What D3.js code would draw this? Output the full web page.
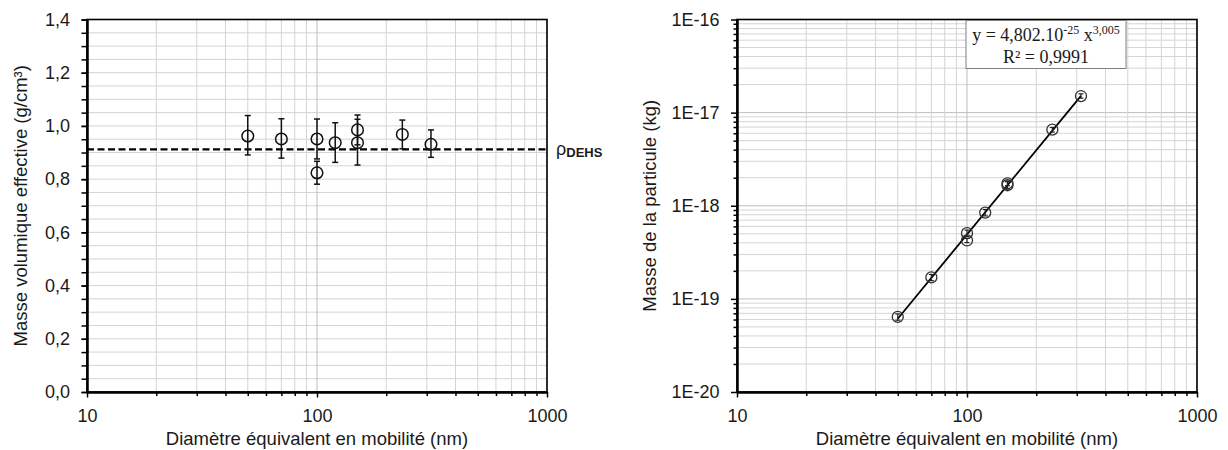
<!DOCTYPE html>
<html>
<head>
<meta charset="utf-8">
<script src="https://cdn.jsdelivr.net/npm/d3@7"></script>
<style>
  html, body { margin: 0; padding: 0; background: #fff; }
  svg { display: block; }
  text { font-family: "Liberation Sans", Arial, sans-serif; fill: #1a1a1a; }
</style>
</head>
<body>
<svg id="chart" width="1228" height="450"></svg>
<script>
// ---------- DATA ----------
const diameters = [50, 70, 100, 100, 120, 150, 150, 235, 313];          // nm
const densities = [0.962, 0.951, 0.951, 0.824, 0.937, 0.985, 0.937, 0.968, 0.931]; // g/cm3
const densityLow = [0.891, 0.879, 0.876, 0.781, 0.863, 0.929, 0.853, 0.914, 0.882];
const densityHigh = [1.039, 1.027, 1.026, 0.867, 1.012, 1.041, 1.025, 1.022, 0.985];
const rhoDEHS = 0.912;

const masses = [6.4e-20, 1.70e-19, 5.08e-19, 4.24e-19, 8.45e-19, 1.74e-18, 1.66e-18, 6.56e-18, 1.507e-17]; // kg
const massLow = [5.9e-20, 1.57e-19, 4.68e-19, 4.02e-19, 7.78e-19, 1.64e-18, 1.51e-18, 6.19e-18, 1.43e-17];
const massHigh = [6.9e-20, 1.83e-19, 5.48e-19, 4.46e-19, 9.12e-19, 1.84e-18, 1.81e-18, 6.93e-18, 1.59e-17];

const fitX = [50, 313];
const fitY = [6.12e-20, 1.515e-17];

const xTickValues = [10, 100, 1000];
const xTickLabels = ["10", "100", "1000"];
const leftYTickValues = [0, 0.2, 0.4, 0.6, 0.8, 1.0, 1.2, 1.4];
const leftYTickLabels = ["0,0", "0,2", "0,4", "0,6", "0,8", "1,0", "1,2", "1,4"];
const rightYTickValues = [1e-20, 1e-19, 1e-18, 1e-17, 1e-16];
const rightYTickLabels = ["1E-20", "1E-19", "1E-18", "1E-17", "1E-16"];

const xTitle = "Diamètre équivalent en mobilité (nm)";
const leftYTitle = "Masse volumique effective (g/cm³)";
const rightYTitle = "Masse de la particule (kg)";

// ---------- LAYOUT ----------
const svg = d3.select("#chart");
const plotTop = 19.5, plotBottom = 392;
const L = { x0: 87, x1: 547 };
const R = { x0: 737, x1: 1197 };

const xL = d3.scaleLog().domain([10, 1000]).range([L.x0, L.x1]);
const yL = d3.scaleLinear().domain([0, 1.4]).range([plotBottom, plotTop]);
const xR = d3.scaleLog().domain([10, 1000]).range([R.x0, R.x1]);
const yR = d3.scaleLog().domain([1e-20, 1e-16]).range([plotBottom, plotTop]);

function logMinors(lo, hi) {
  const out = [];
  for (let d = lo; d < hi * 0.999; d *= 10) for (let k = 2; k <= 9; k++) out.push(k * d);
  return out;
}
const xMinor = logMinors(10, 1000);
const yRMinor = logMinors(1e-20, 1e-16);
const yLAll = d3.range(0, 29).map(i => i * 0.05);

// ---------- GRID ----------
function vgrid(x, vals, color) {
  svg.append("g").selectAll("line").data(vals).join("line")
    .attr("x1", d => x(d)).attr("x2", d => x(d))
    .attr("y1", plotTop).attr("y2", plotBottom)
    .attr("stroke", color).attr("stroke-width", 1);
}
function hgrid(y, x0, x1, vals, color) {
  svg.append("g").selectAll("line").data(vals).join("line")
    .attr("x1", x0).attr("x2", x1)
    .attr("y1", d => y(d)).attr("y2", d => y(d))
    .attr("stroke", color).attr("stroke-width", 1);
}
hgrid(yL, L.x0, L.x1, yLAll, "#d4d4d4");
vgrid(xL, xMinor, "#d4d4d4");
vgrid(xL, xTickValues, "#bdbdbd");
hgrid(yR, R.x0, R.x1, yRMinor, "#d4d4d4");
hgrid(yR, R.x0, R.x1, rightYTickValues, "#bdbdbd");
vgrid(xR, xMinor, "#d4d4d4");
vgrid(xR, xTickValues, "#bdbdbd");

// ---------- FRAMES ----------
[L, R].forEach(p => {
  svg.append("rect").attr("x", p.x0).attr("y", plotTop)
    .attr("width", p.x1 - p.x0).attr("height", plotBottom - plotTop)
    .attr("fill", "none").attr("stroke", "#000").attr("stroke-width", 1.6);
});

// ---------- AXES ----------
function styleAxis(g, fs) {
  g.select(".domain").attr("stroke", "#000").attr("stroke-width", 2);
  g.selectAll(".tick line").attr("stroke", "#000").attr("stroke-width", 1.5);
  g.selectAll(".tick text").style("font-size", fs + "px")
    .style("font-family", '"Liberation Sans", Arial, sans-serif').attr("fill", "#1a1a1a");
}
[[xL, L], [xR, R]].forEach(([x, p]) => {
  const gMin = svg.append("g").attr("transform", `translate(0,${plotBottom})`)
    .call(d3.axisBottom(x).tickValues(xMinor).tickSize(4).tickSizeOuter(0).tickFormat(""));
  styleAxis(gMin, 18);
  const gMaj = svg.append("g").attr("transform", `translate(0,${plotBottom})`)
    .call(d3.axisBottom(x).tickValues(xTickValues).tickSize(5.5).tickPadding(11.5).tickSizeOuter(0)
      .tickFormat((d, i) => xTickLabels[i]));
  styleAxis(gMaj, 18);
});
const gLy = svg.append("g").attr("transform", `translate(${L.x0},0)`)
  .call(d3.axisLeft(yL).tickValues(yLAll).tickSize(5.5).tickSizeOuter(0).tickFormat(""));
styleAxis(gLy, 18);
const gLyM = svg.append("g").attr("transform", `translate(${L.x0},0)`)
  .call(d3.axisLeft(yL).tickValues(leftYTickValues).tickSize(5.5).tickPadding(11.5).tickSizeOuter(0)
    .tickFormat((d, i) => leftYTickLabels[i]));
styleAxis(gLyM, 18);
const gRy = svg.append("g").attr("transform", `translate(${R.x0},0)`)
  .call(d3.axisLeft(yR).tickValues(yRMinor).tickSize(3.5).tickSizeOuter(0).tickFormat(""));
styleAxis(gRy, 18);
const gRyM = svg.append("g").attr("transform", `translate(${R.x0},0)`)
  .call(d3.axisLeft(yR).tickValues(rightYTickValues).tickSize(6).tickPadding(11.5).tickSizeOuter(0)
    .tickFormat((d, i) => rightYTickLabels[i]));
styleAxis(gRyM, 18);

// ---------- TITLES ----------
svg.append("text").attr("x", (L.x0 + L.x1) / 2).attr("y", 445)
  .attr("text-anchor", "middle").style("font-size", "18.5px").text(xTitle);
svg.append("text").attr("x", (R.x0 + R.x1) / 2).attr("y", 445)
  .attr("text-anchor", "middle").style("font-size", "18.5px").text(xTitle);
svg.append("text").attr("transform", `translate(27,${(plotTop + plotBottom) / 2}) rotate(-90)`)
  .attr("text-anchor", "middle").style("font-size", "18.5px").text(leftYTitle);
svg.append("text").attr("transform", `translate(656,${(plotTop + plotBottom) / 2}) rotate(-90)`)
  .attr("text-anchor", "middle").style("font-size", "18.5px").text(rightYTitle);

// ---------- LEFT: DEHS line ----------
svg.append("line").attr("x1", L.x0).attr("x2", L.x1)
  .attr("y1", yL(rhoDEHS)).attr("y2", yL(rhoDEHS))
  .attr("stroke", "#000").attr("stroke-width", 2.2).attr("stroke-dasharray", "7,3.5");
const rhoLbl = svg.append("text").attr("x", 556).attr("y", yL(rhoDEHS) + 5.5);
rhoLbl.append("tspan").style("font-size", "18px").text("ρ");
rhoLbl.append("tspan").attr("dy", 2).style("font-size", "13px").style("font-weight", "bold").text("DEHS");

// ---------- LEFT: error bars + markers ----------
const gL = svg.append("g");
diameters.forEach((d, i) => {
  const cx = xL(d);
  gL.append("line").attr("x1", cx).attr("x2", cx)
    .attr("y1", yL(densityLow[i])).attr("y2", yL(densityHigh[i]))
    .attr("stroke", "#111").attr("stroke-width", 1.5);
  [densityLow[i], densityHigh[i]].forEach(v => {
    gL.append("line").attr("x1", cx - 3).attr("x2", cx + 3)
      .attr("y1", yL(v)).attr("y2", yL(v)).attr("stroke", "#111").attr("stroke-width", 1.5);
  });
  gL.append("circle").attr("cx", cx).attr("cy", yL(densities[i])).attr("r", 5.8)
    .attr("fill", "none").attr("stroke", "#111").attr("stroke-width", 1.5);
});

// ---------- RIGHT: fit line ----------
svg.append("path")
  .attr("d", d3.line().x(d => xR(d[0])).y(d => yR(d[1]))(fitX.map((x, i) => [x, fitY[i]])))
  .attr("stroke", "#000").attr("stroke-width", 1.8).attr("fill", "none");

const gR = svg.append("g");
diameters.forEach((d, i) => {
  const cx = xR(d);
  gR.append("line").attr("x1", cx).attr("x2", cx)
    .attr("y1", yR(massLow[i])).attr("y2", yR(massHigh[i]))
    .attr("stroke", "#222").attr("stroke-width", 1.2);
  [massLow[i], massHigh[i]].forEach(v => {
    gR.append("line").attr("x1", cx - 2.5).attr("x2", cx + 2.5)
      .attr("y1", yR(v)).attr("y2", yR(v)).attr("stroke", "#222").attr("stroke-width", 1.2);
  });
  gR.append("circle").attr("cx", cx).attr("cy", yR(masses[i])).attr("r", 5.5)
    .attr("fill", "none").attr("stroke", "#333").attr("stroke-width", 1.3);
});

// ---------- RIGHT: equation box ----------
const boxX = 966, boxY = 20.5, boxW = 160, boxH = 48;
svg.append("rect").attr("x", boxX).attr("y", boxY).attr("width", boxW).attr("height", boxH)
  .attr("fill", "#fff").attr("stroke", "#7f7f7f").attr("stroke-width", 1);
const serif = '"Liberation Serif", "Times New Roman", serif';
const eq1 = svg.append("text").attr("x", boxX + boxW / 2).attr("y", 41)
  .attr("text-anchor", "middle").style("font-family", serif).style("font-size", "18px");
eq1.append("tspan").text("y = 4,802.10");
eq1.append("tspan").attr("dy", -7).style("font-size", "12px").text("-25");
eq1.append("tspan").attr("dy", 7).text(" x");
eq1.append("tspan").attr("dy", -7).style("font-size", "12px").text("3,005");
svg.append("text").attr("x", boxX + boxW / 2).attr("y", 63)
  .attr("text-anchor", "middle").style("font-family", serif).style("font-size", "18px")
  .text("R² = 0,9991");
</script>
</body>
</html>
